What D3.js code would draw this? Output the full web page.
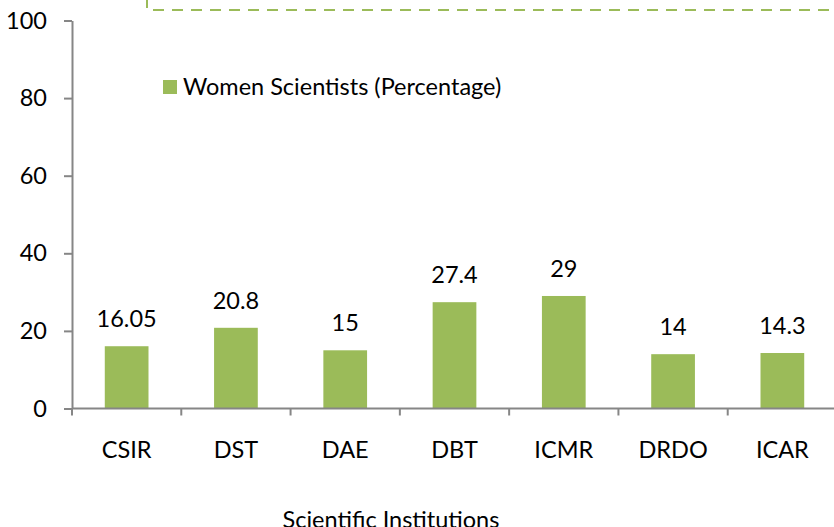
<!DOCTYPE html>
<html>
<head>
<meta charset="utf-8">
<script src="https://cdn.jsdelivr.net/npm/d3@7"></script>
<style>
body { margin: 0; background: #fff; }
text { font-family: Lato, "Open Sans", sans-serif; fill: #000; }
</style>
</head>
<body>
<div id="chart"></div>
<script>
var svgWidth = 834;
var svgHeight = 527;

var institutions = ["CSIR", "DST", "DAE", "DBT", "ICMR", "DRDO", "ICAR"];
var percentages = [16.05, 20.8, 15, 27.4, 29, 14, 14.3];
var yTicks = [0, 20, 40, 60, 80, 100];
var seriesName = "Women Scientists (Percentage)";
var xTitle = "Scientific Institutions";

var green = "#9BBB59";
var axisGrey = "#868686";
var fontSize = 23.5;

var plot = { left: 72, right: 837, top: 20.5, bottom: 408.5 };

var svg = d3.select("#chart").append("svg").attr("width", svgWidth).attr("height", svgHeight);

var data = institutions.map((d, i) => ({ name: d, value: percentages[i] }));

var xScale = d3.scaleBand().domain(institutions).range([plot.left, plot.right]).paddingInner(0.6).paddingOuter(0.3);
var xEdges = d3.scaleBand().domain(institutions).range([plot.left, plot.right]).padding(0);
var yScale = d3.scaleLinear().domain([0, 100]).range([plot.bottom, plot.top]);

// dashed legend/title box, mostly cut off at the top
svg.append("rect").attr("x", 147).attr("y", -30).attr("width", 720).attr("height", 40)
    .attr("fill", "none").attr("stroke", green).attr("stroke-width", 2).attr("stroke-dasharray", "11,8");

// bars
svg.selectAll(".bar").data(data).enter().append("rect").attr("class", "bar")
    .attr("x", d => xScale(d.name)).attr("width", xScale.bandwidth())
    .attr("y", d => yScale(d.value)).attr("height", d => yScale(0) - yScale(d.value))
    .attr("fill", green);

// value labels
svg.selectAll(".val").data(data).enter().append("text").attr("class", "val")
    .attr("x", d => xScale(d.name) + xScale.bandwidth() / 2)
    .attr("y", d => yScale(d.value) - 19)
    .attr("text-anchor", "middle").attr("font-size", fontSize)
    .text(d => d.value);

// y axis
var yAxis = svg.append("g").attr("transform", `translate(${plot.left},0)`)
    .call(d3.axisLeft(yScale).tickValues(yTicks).tickSize(8).tickSizeOuter(0).tickPadding(17));
yAxis.selectAll("text").attr("font-size", fontSize).attr("font-family", "Lato, sans-serif").attr("fill", "#000");
yAxis.selectAll("line, path").attr("stroke", axisGrey).attr("stroke-width", 2);

// x axis line and boundary ticks
svg.append("line").attr("x1", plot.left).attr("x2", plot.right).attr("y1", plot.bottom).attr("y2", plot.bottom)
    .attr("stroke", axisGrey).attr("stroke-width", 2);
var edges = institutions.map(d => xEdges(d)).concat([plot.right]);
svg.selectAll(".xtick").data(edges).enter().append("line").attr("class", "xtick")
    .attr("x1", d => d).attr("x2", d => d).attr("y1", plot.bottom).attr("y2", plot.bottom + 7)
    .attr("stroke", axisGrey).attr("stroke-width", 2);

svg.selectAll(".xlab").data(institutions).enter().append("text").attr("class", "xlab")
    .attr("x", d => xEdges(d) + xEdges.bandwidth() / 2).attr("y", 458)
    .attr("text-anchor", "middle").attr("font-size", fontSize).text(d => d);

// axis title
svg.append("text").attr("x", 391).attr("y", 528).attr("text-anchor", "middle")
    .attr("font-size", fontSize).text(xTitle);

// legend
svg.append("rect").attr("x", 163).attr("y", 80).attr("width", 14).attr("height", 14).attr("fill", green);
svg.append("text").attr("x", 183).attr("y", 95).attr("font-size", fontSize).text(seriesName);
</script>
</body>
</html>
